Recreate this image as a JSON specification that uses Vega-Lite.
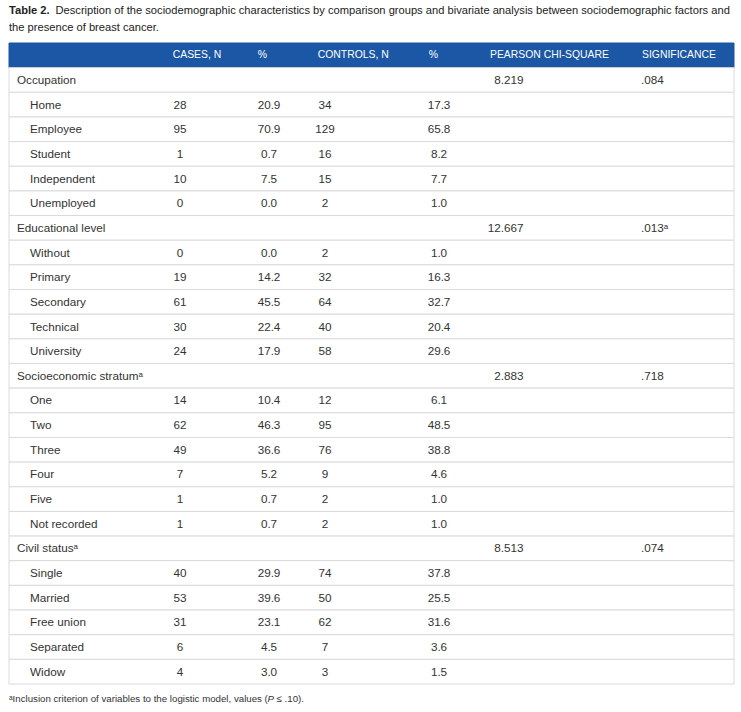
{
  "$schema": "https://vega.github.io/schema/vega-lite/v6.json",
  "padding": {"left": 8, "right": 8, "top": 2, "bottom": 0},
  "autosize": {"type": "pad"},
  "background": "white",
  "bounds": "flush",
  "spacing": 7,
  "config": {"view": {"stroke": null}, "text": {"font": "Liberation Sans"}},
  "datasets": {
    "caption": [
      {"line": "1", "lead": "Table 2.", "text": "Description of the sociodemographic characteristics by comparison groups and bivariate analysis between sociodemographic factors and"},
      {"line": "2", "lead": "", "text": "the presence of breast cancer."}
    ],
    "table": [
      {"kind": "header", "label": "", "cases": "CASES, N", "cpct": "%", "controls": "CONTROLS, N", "ctpct": "%", "chi": "PEARSON CHI-SQUARE", "sig": "SIGNIFICANCE"},
      {"kind": "category", "label": "Occupation", "cases": "", "cpct": "", "controls": "", "ctpct": "", "chi": "8.219", "sig": ".084"},
      {"kind": "item", "label": "Home", "cases": "28", "cpct": "20.9", "controls": "34", "ctpct": "17.3", "chi": "", "sig": ""},
      {"kind": "item", "label": "Employee", "cases": "95", "cpct": "70.9", "controls": "129", "ctpct": "65.8", "chi": "", "sig": ""},
      {"kind": "item", "label": "Student", "cases": "1", "cpct": "0.7", "controls": "16", "ctpct": "8.2", "chi": "", "sig": ""},
      {"kind": "item", "label": "Independent", "cases": "10", "cpct": "7.5", "controls": "15", "ctpct": "7.7", "chi": "", "sig": ""},
      {"kind": "item", "label": "Unemployed", "cases": "0", "cpct": "0.0", "controls": "2", "ctpct": "1.0", "chi": "", "sig": ""},
      {"kind": "category", "label": "Educational level", "cases": "", "cpct": "", "controls": "", "ctpct": "", "chi": "12.667", "sig": ".013ᵃ"},
      {"kind": "item", "label": "Without", "cases": "0", "cpct": "0.0", "controls": "2", "ctpct": "1.0", "chi": "", "sig": ""},
      {"kind": "item", "label": "Primary", "cases": "19", "cpct": "14.2", "controls": "32", "ctpct": "16.3", "chi": "", "sig": ""},
      {"kind": "item", "label": "Secondary", "cases": "61", "cpct": "45.5", "controls": "64", "ctpct": "32.7", "chi": "", "sig": ""},
      {"kind": "item", "label": "Technical", "cases": "30", "cpct": "22.4", "controls": "40", "ctpct": "20.4", "chi": "", "sig": ""},
      {"kind": "item", "label": "University", "cases": "24", "cpct": "17.9", "controls": "58", "ctpct": "29.6", "chi": "", "sig": ""},
      {"kind": "category", "label": "Socioeconomic stratumᵃ", "cases": "", "cpct": "", "controls": "", "ctpct": "", "chi": "2.883", "sig": ".718"},
      {"kind": "item", "label": "One", "cases": "14", "cpct": "10.4", "controls": "12", "ctpct": "6.1", "chi": "", "sig": ""},
      {"kind": "item", "label": "Two", "cases": "62", "cpct": "46.3", "controls": "95", "ctpct": "48.5", "chi": "", "sig": ""},
      {"kind": "item", "label": "Three", "cases": "49", "cpct": "36.6", "controls": "76", "ctpct": "38.8", "chi": "", "sig": ""},
      {"kind": "item", "label": "Four", "cases": "7", "cpct": "5.2", "controls": "9", "ctpct": "4.6", "chi": "", "sig": ""},
      {"kind": "item", "label": "Five", "cases": "1", "cpct": "0.7", "controls": "2", "ctpct": "1.0", "chi": "", "sig": ""},
      {"kind": "item", "label": "Not recorded", "cases": "1", "cpct": "0.7", "controls": "2", "ctpct": "1.0", "chi": "", "sig": ""},
      {"kind": "category", "label": "Civil statusᵃ", "cases": "", "cpct": "", "controls": "", "ctpct": "", "chi": "8.513", "sig": ".074"},
      {"kind": "item", "label": "Single", "cases": "40", "cpct": "29.9", "controls": "74", "ctpct": "37.8", "chi": "", "sig": ""},
      {"kind": "item", "label": "Married", "cases": "53", "cpct": "39.6", "controls": "50", "ctpct": "25.5", "chi": "", "sig": ""},
      {"kind": "item", "label": "Free union", "cases": "31", "cpct": "23.1", "controls": "62", "ctpct": "31.6", "chi": "", "sig": ""},
      {"kind": "item", "label": "Separated", "cases": "6", "cpct": "4.5", "controls": "7", "ctpct": "3.6", "chi": "", "sig": ""},
      {"kind": "item", "label": "Widow", "cases": "4", "cpct": "3.0", "controls": "3", "ctpct": "1.5", "chi": "", "sig": ""}
    ],
    "note": [
      {"line": "1", "before": "ᵃInclusion criterion of variables to the logistic model, values (", "symbol": "P", "after": " ≤ .10)."}
    ]
  },
  "vconcat": [
    {
      "width": 725,
      "height": 34,
      "data": {"name": "caption"},
      "encoding": {
        "y": {"field": "line", "type": "nominal", "sort": null, "axis": null, "scale": {"paddingInner": 0, "paddingOuter": 0}}
      },
      "layer": [
        {
          "transform": [{"filter": "datum.line === '1'"}],
          "mark": {"type": "text", "align": "left", "baseline": "middle", "fontSize": 11.15, "fontWeight": "bold", "color": "#222222"},
          "encoding": {
            "x": {"datum": 0, "type": "quantitative", "scale": {"domain": [0, 725], "nice": false, "zero": false}, "axis": null},
            "text": {"field": "lead"}
          }
        },
        {
          "transform": [{"filter": "datum.line === '1'"}],
          "mark": {"type": "text", "align": "left", "baseline": "middle", "fontSize": 11.15, "color": "#222222"},
          "encoding": {
            "x": {"datum": 46.5, "type": "quantitative"},
            "text": {"field": "text"}
          }
        },
        {
          "transform": [{"filter": "datum.line === '2'"}],
          "mark": {"type": "text", "align": "left", "baseline": "middle", "fontSize": 11.15, "color": "#222222"},
          "encoding": {
            "x": {"datum": 0, "type": "quantitative"},
            "text": {"field": "text"}
          }
        }
      ]
    },
    {
      "width": 725,
      "height": 641,
      "data": {"name": "table"},
      "encoding": {
        "y": {"field": "label", "type": "nominal", "sort": null, "axis": null, "scale": {"paddingInner": 0, "paddingOuter": 0}}
      },
      "layer": [
        {
          "mark": {"type": "rect", "strokeWidth": 1},
          "encoding": {
            "x": {"datum": 0, "type": "quantitative", "scale": {"domain": [0, 725], "nice": false, "zero": false}, "axis": null},
            "x2": {"datum": 725},
            "fill": {"condition": {"test": "datum.kind === 'header'", "value": "#1b57a4"}, "value": "#ffffff"},
            "stroke": {"condition": {"test": "datum.kind === 'header'", "value": "#1b57a4"}, "value": "#dadada"}
          }
        },
        {
          "transform": [{"filter": "datum.kind === 'category'"}],
          "mark": {"type": "text", "align": "left", "baseline": "middle", "fontSize": 11.7, "color": "#333333"},
          "encoding": {"x": {"datum": 8, "type": "quantitative"}, "text": {"field": "label"}}
        },
        {
          "transform": [{"filter": "datum.kind === 'item'"}],
          "mark": {"type": "text", "align": "left", "baseline": "middle", "fontSize": 11.7, "color": "#333333"},
          "encoding": {"x": {"datum": 21, "type": "quantitative"}, "text": {"field": "label"}}
        },
        {
          "transform": [{"filter": "datum.kind !== 'header'"}],
          "mark": {"type": "text", "align": "center", "baseline": "middle", "fontSize": 11.7, "color": "#333333"},
          "encoding": {"x": {"datum": 171, "type": "quantitative"}, "text": {"field": "cases"}}
        },
        {
          "transform": [{"filter": "datum.kind !== 'header'"}],
          "mark": {"type": "text", "align": "center", "baseline": "middle", "fontSize": 11.7, "color": "#333333"},
          "encoding": {"x": {"datum": 260, "type": "quantitative"}, "text": {"field": "cpct"}}
        },
        {
          "transform": [{"filter": "datum.kind !== 'header'"}],
          "mark": {"type": "text", "align": "center", "baseline": "middle", "fontSize": 11.7, "color": "#333333"},
          "encoding": {"x": {"datum": 316, "type": "quantitative"}, "text": {"field": "controls"}}
        },
        {
          "transform": [{"filter": "datum.kind !== 'header'"}],
          "mark": {"type": "text", "align": "center", "baseline": "middle", "fontSize": 11.7, "color": "#333333"},
          "encoding": {"x": {"datum": 430, "type": "quantitative"}, "text": {"field": "ctpct"}}
        },
        {
          "transform": [{"filter": "datum.kind !== 'header'"}],
          "mark": {"type": "text", "align": "right", "baseline": "middle", "fontSize": 11.7, "color": "#333333"},
          "encoding": {"x": {"datum": 514.5, "type": "quantitative"}, "text": {"field": "chi"}}
        },
        {
          "transform": [{"filter": "datum.kind !== 'header'"}],
          "mark": {"type": "text", "align": "left", "baseline": "middle", "fontSize": 11.7, "color": "#333333"},
          "encoding": {"x": {"datum": 632, "type": "quantitative"}, "text": {"field": "sig"}}
        },
        {
          "transform": [{"filter": "datum.kind === 'header'"}],
          "mark": {"type": "text", "align": "left", "baseline": "middle", "fontSize": 10.4, "color": "#ffffff"},
          "encoding": {"x": {"datum": 163.7, "type": "quantitative"}, "text": {"field": "cases"}}
        },
        {
          "transform": [{"filter": "datum.kind === 'header'"}],
          "mark": {"type": "text", "align": "left", "baseline": "middle", "fontSize": 10.4, "color": "#ffffff"},
          "encoding": {"x": {"datum": 248.7, "type": "quantitative"}, "text": {"field": "cpct"}}
        },
        {
          "transform": [{"filter": "datum.kind === 'header'"}],
          "mark": {"type": "text", "align": "left", "baseline": "middle", "fontSize": 10.4, "color": "#ffffff"},
          "encoding": {"x": {"datum": 308.7, "type": "quantitative"}, "text": {"field": "controls"}}
        },
        {
          "transform": [{"filter": "datum.kind === 'header'"}],
          "mark": {"type": "text", "align": "left", "baseline": "middle", "fontSize": 10.4, "color": "#ffffff"},
          "encoding": {"x": {"datum": 419.7, "type": "quantitative"}, "text": {"field": "ctpct"}}
        },
        {
          "transform": [{"filter": "datum.kind === 'header'"}],
          "mark": {"type": "text", "align": "left", "baseline": "middle", "fontSize": 10.4, "color": "#ffffff"},
          "encoding": {"x": {"datum": 481, "type": "quantitative"}, "text": {"field": "chi"}}
        },
        {
          "transform": [{"filter": "datum.kind === 'header'"}],
          "mark": {"type": "text", "align": "left", "baseline": "middle", "fontSize": 10.4, "color": "#ffffff"},
          "encoding": {"x": {"datum": 633, "type": "quantitative"}, "text": {"field": "sig"}}
        }
      ]
    },
    {
      "width": 725,
      "height": 16,
      "data": {"name": "note"},
      "encoding": {
        "y": {"field": "line", "type": "nominal", "axis": null, "scale": {"paddingInner": 0, "paddingOuter": 0}}
      },
      "layer": [
        {
          "mark": {"type": "text", "align": "left", "baseline": "middle", "fontSize": 9.7, "color": "#333333"},
          "encoding": {
            "x": {"datum": 0, "type": "quantitative", "scale": {"domain": [0, 725], "nice": false, "zero": false}, "axis": null},
            "text": {"field": "before"}
          }
        },
        {
          "mark": {"type": "text", "align": "left", "baseline": "middle", "fontSize": 9.7, "fontStyle": "italic", "color": "#333333"},
          "encoding": {
            "x": {"datum": 258.6, "type": "quantitative"},
            "text": {"field": "symbol"}
          }
        },
        {
          "mark": {"type": "text", "align": "left", "baseline": "middle", "fontSize": 9.7, "color": "#333333"},
          "encoding": {
            "x": {"datum": 267.6, "type": "quantitative"},
            "text": {"field": "after"}
          }
        }
      ]
    }
  ]
}
